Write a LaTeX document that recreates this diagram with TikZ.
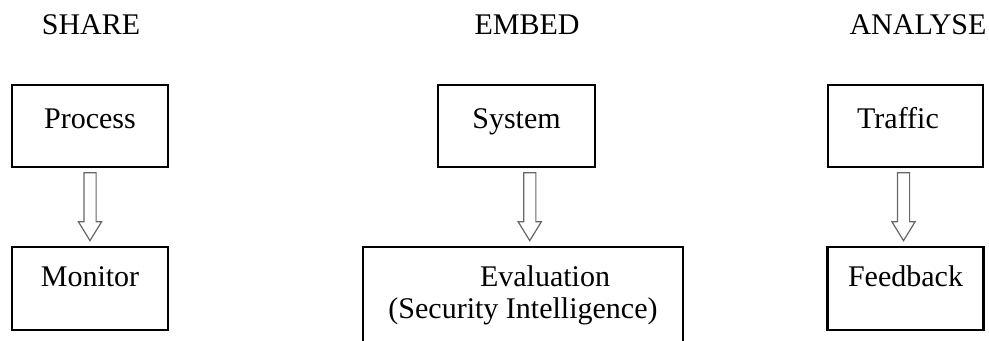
\documentclass[tikz,border=0pt]{standalone}
\usepackage{fontspec}
\setmainfont{Liberation Serif}
\usetikzlibrary{calc, positioning, shapes.arrows}
\tikzset{
    box/.style={rectangle, draw=black, line width=1.1pt, inner sep=0pt, minimum width=78pt, minimum height=41pt, align=center, font=\fontsize{15}{16}\selectfont},
    head/.style={font=\fontsize{15}{16}\selectfont, anchor=base, inner sep=0pt},
    downarrow/.style={single arrow, draw=black!60, line width=0.6pt, shape border rotate=270, minimum height=34pt, minimum width=0pt, single arrow head extend=2.75pt, single arrow tip angle=63, inner sep=2.75pt, yshift=2.75pt}
}

\begin{document}
\begin{tikzpicture}[x=0.5pt, y=-0.5pt]
        \useasboundingbox (0,0) rectangle (989,341);
        \clip (0,0) rectangle (989,341);

        % Headings
        \node[head] (share) at (91,35) {SHARE};
        \node[head] (embed) at (527,35) {EMBED};
        \node[head] (analyse) at (918,35) {ANALYSE};

        % Column 1
        \node[box, anchor=north, text height=21.5pt, text depth=19.5pt] (proc) at (90,84) {Process};
        \node[box, below=39pt of proc, text height=19.5pt, text depth=22pt] (mon) {Monitor};

        % Column 2
        \node[box, anchor=north, minimum width=78.5pt, text height=21.5pt, text depth=19.5pt] (sys) at (516.5,84) {System};
        \node[box, below=39pt of sys, xshift=3.25pt, minimum width=160pt, text height=35.5pt, text depth=20pt] (eval) {\hspace{22pt}Evaluation\\(Security Intelligence)};

        % Column 3
        \node[box, anchor=north, minimum width=77.5pt, text height=21.5pt, text depth=19.5pt] (traf) at (905.5,84) {Traffic\hspace{7.5pt}};
        \node[box, below=39pt of traf, text height=19.5pt, text depth=22pt] (feed) {Feedback};

        % Arrows
        \node[downarrow] (a1) at ($(proc.south)!0.5!(mon.north)$) {};
        \node[downarrow, xshift=5pt] (a2) at ($(sys.south)!0.5!(eval.north)$) {};
        \node[downarrow, xshift=-1pt] (a3) at ($(traf.south)!0.5!(feed.north)$) {};
    \end{tikzpicture}
\end{document}
